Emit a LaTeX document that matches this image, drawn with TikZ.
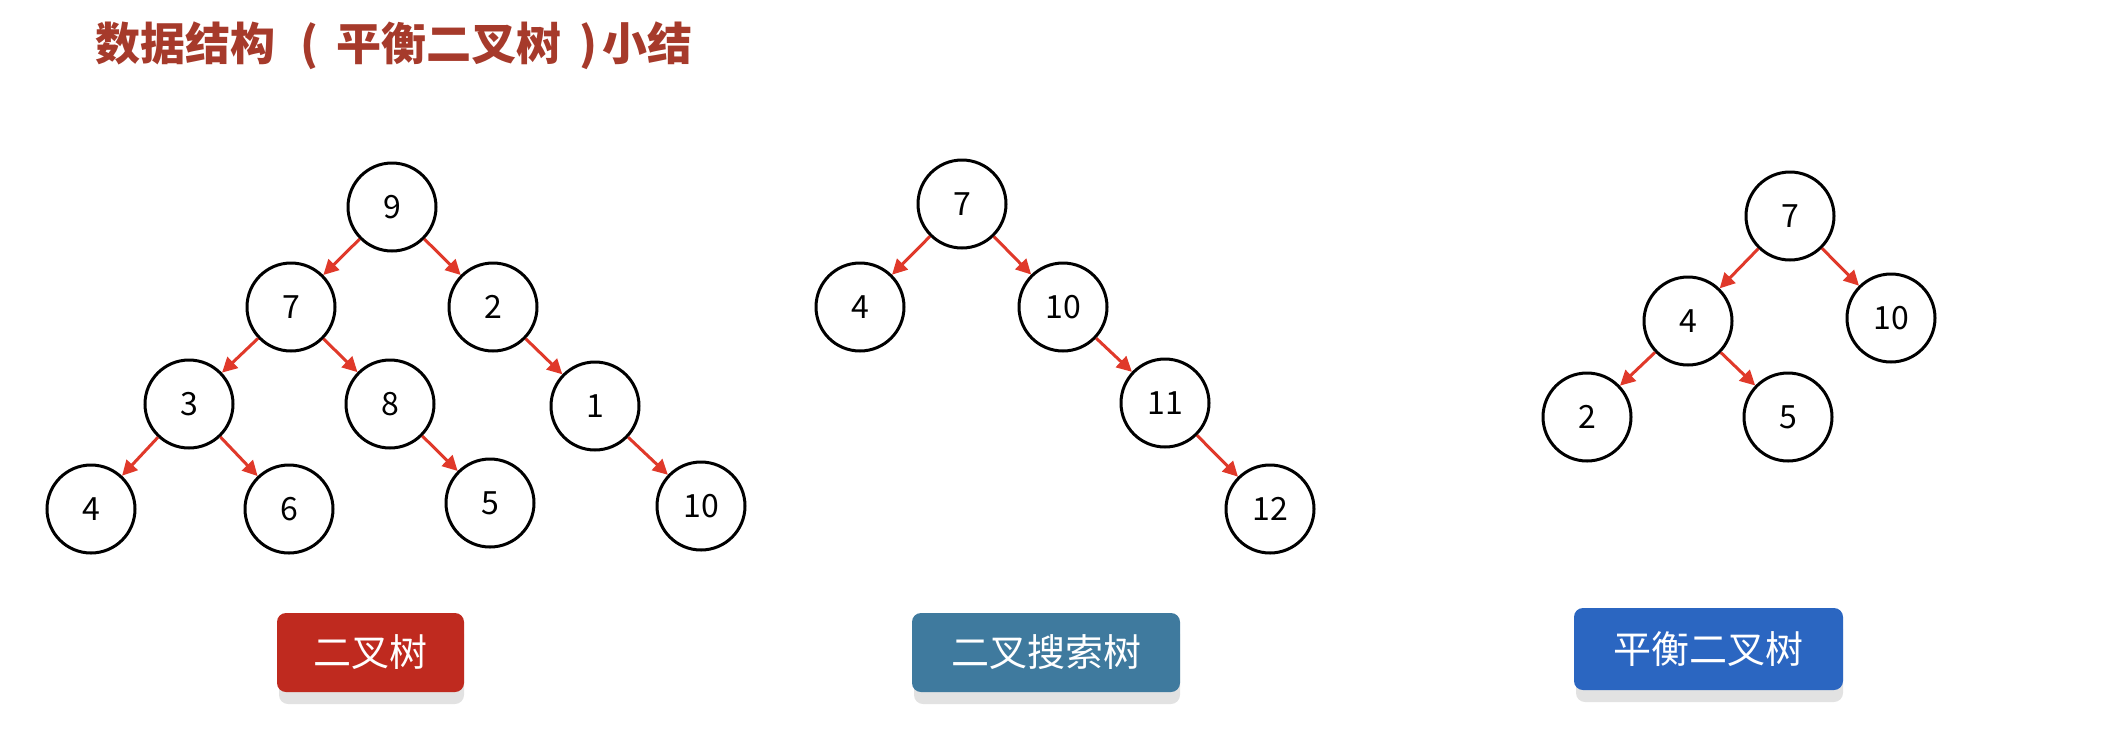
\documentclass[tikz,border=0pt]{standalone}
\usepackage{fontspec}
\setmainfont{Noto Sans CJK SC}
\usetikzlibrary{arrows.meta}
\definecolor{titlered}{HTML}{A63A2B}
\definecolor{arrowred}{HTML}{E0392A}
\definecolor{btnred}{HTML}{BF2A1F}
\definecolor{btnteal}{HTML}{3F7A9E}
\definecolor{btnblue}{HTML}{2B66C1}
\definecolor{shadowgray}{HTML}{E2E2E2}
\begin{document}
\begin{tikzpicture}[x=1pt,y=-1pt,
  nd/.style={circle,draw=black,line width=3pt,minimum size=88pt,inner sep=0pt,font=\fontsize{32}{32}\selectfont},
  ar/.style={draw=arrowred,line width=3pt,-{Triangle[length=15pt,width=15pt]}},
  btn/.style={rounded corners=9pt,inner sep=0pt,text=white,font=\fontsize{38}{38}\selectfont},
  shadowbox/.style={fill=shadowgray,rounded corners=9pt}]
\useasboundingbox (0,0) rectangle (2121,740);
% title
\node[anchor=west,text=titlered,font=\fontsize{45}{45}\selectfont\bfseries,inner sep=0pt] (title) at (95,46) {数据结构\hspace{25pt}(\hspace{18pt}平衡二叉树\hspace{18pt})\hspace{5pt}小结};
% tree 1
\node[nd] (a9) at (392,207) {9};
\node[nd] (a7) at (291,307) {7};
\node[nd] (a2) at (493,307) {2};
\node[nd] (a3) at (189,404) {3};
\node[nd] (a8) at (390,404) {8};
\node[nd] (a1) at (595,406) {1};
\node[nd] (a4) at (91,509) {4};
\node[nd] (a6) at (289,509) {6};
\node[nd] (a5) at (490,503) {5};
\node[nd] (a10) at (701,506) {10};
\draw[ar] (a9) -- (a7);
\draw[ar] (a9) -- (a2);
\draw[ar] (a7) -- (a3);
\draw[ar] (a7) -- (a8);
\draw[ar] (a2) -- (a1);
\draw[ar] (a3) -- (a4);
\draw[ar] (a3) -- (a6);
\draw[ar] (a8) -- (a5);
\draw[ar] (a1) -- (a10);
% tree 2
\node[nd] (b7) at (962,204) {7};
\node[nd] (b4) at (860,307) {4};
\node[nd] (b10) at (1063,307) {10};
\node[nd] (b11) at (1165,403) {11};
\node[nd] (b12) at (1270,509) {12};
\draw[ar] (b7) -- (b4);
\draw[ar] (b7) -- (b10);
\draw[ar] (b10) -- (b11);
\draw[ar] (b11) -- (b12);
% tree 3
\node[nd] (c7) at (1790,216) {7};
\node[nd] (c4) at (1688,321) {4};
\node[nd] (c10) at (1891,318) {10};
\node[nd] (c2) at (1587,417) {2};
\node[nd] (c5) at (1788,417) {5};
\draw[ar] (c7) -- (c4);
\draw[ar] (c7) -- (c10);
\draw[ar] (c4) -- (c2);
\draw[ar] (c4) -- (c5);
% buttons
\fill[shadowbox] (279,625) rectangle (464,704);
\node[btn,fill=btnred,minimum width=187pt,minimum height=79pt] (bt1) at (370.5,652.5) {二叉树};
\fill[shadowbox] (914,625) rectangle (1180,704);
\node[btn,fill=btnteal,minimum width=268pt,minimum height=79pt] (bt2) at (1046,652.5) {二叉搜索树};
\fill[shadowbox] (1576,620) rectangle (1843,702);
\node[btn,fill=btnblue,minimum width=269pt,minimum height=82pt] (bt3) at (1708.5,649) {平衡二叉树};
\end{tikzpicture}
\end{document}
